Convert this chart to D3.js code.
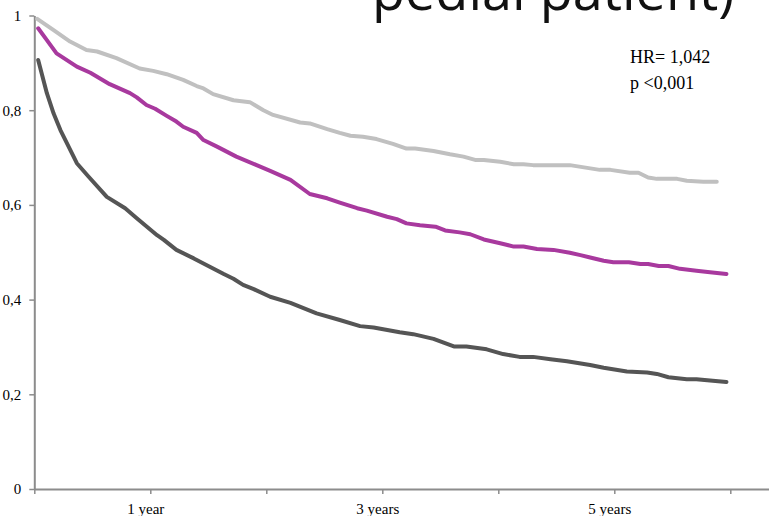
<!DOCTYPE html>
<html>
<head>
<meta charset="utf-8">
<script src="https://cdn.jsdelivr.net/npm/d3@7"></script>
<style>
  html, body { margin: 0; padding: 0; background: #fff; overflow: hidden; }
  svg { display: block; }
</style>
</head>
<body>
<svg id="chart" width="769" height="516"></svg>
<script>
// ---- data (months since start, survival proportion) ----
const greyMonths = [0.3,2,3.7,5.4,6.5,8.5,10.9,12.3,13.7,15.4,16.8,17.5,18.5,20.6,22.3,23.7,24.7,27.5,28.5,30.3,31.6,32.7,34,35.4,37.1,38.5,39.4,41.3,43,44.4,45.6,46.5,48.2,49.6,50.6,51.6,55.4,58.5,59.6,61.6,62.5,63.5,64.4,66.5,67.5,69.2,70.6];
const greyValues = [0.993,0.969,0.945,0.927,0.924,0.910,0.888,0.883,0.876,0.864,0.851,0.846,0.834,0.821,0.817,0.800,0.790,0.774,0.772,0.760,0.752,0.746,0.744,0.739,0.729,0.719,0.719,0.714,0.707,0.702,0.695,0.695,0.691,0.686,0.686,0.684,0.684,0.674,0.674,0.668,0.668,0.658,0.655,0.655,0.651,0.649,0.649];

const magentaMonths = [0.4,1.3,2.3,4.4,5.8,7.8,9.9,10.6,11.6,12.5,13.7,14.7,15.4,16.8,17.5,18.9,20.9,23,24.4,26.5,28.5,30.3,31.6,33.4,34.4,36.5,37.5,38.5,39.9,41.5,42.5,44,45.1,46.5,48.2,49.6,50.6,52,53.7,55.4,56.5,57.5,58.9,59.9,61.5,62.7,63.5,64.6,65.6,66.8,68.5,69.9,71.6];
const magentaValues = [0.973,0.948,0.920,0.892,0.879,0.855,0.836,0.827,0.811,0.803,0.788,0.776,0.765,0.752,0.737,0.723,0.702,0.684,0.672,0.653,0.623,0.614,0.605,0.593,0.588,0.575,0.570,0.561,0.557,0.554,0.546,0.542,0.538,0.527,0.519,0.512,0.512,0.507,0.505,0.499,0.494,0.489,0.482,0.479,0.479,0.475,0.475,0.471,0.471,0.465,0.461,0.458,0.454];

const darkMonths = [0.4,1.3,2,2.7,4.4,5.6,7.5,9.4,10.6,12.7,13.4,14.7,16.5,18.2,19.6,20.6,21.6,22.7,24.4,26.5,29.2,31.6,33.7,35.1,37.8,39.2,41.3,43.4,44.7,46.8,48.5,50.2,51.6,53.4,55.1,57.5,58.9,61.3,63.4,64.4,65.6,67.5,68.5,69.9,71.6];
const darkValues = [0.906,0.836,0.793,0.758,0.688,0.660,0.617,0.593,0.572,0.536,0.526,0.505,0.487,0.469,0.454,0.444,0.431,0.422,0.406,0.393,0.371,0.357,0.344,0.341,0.331,0.327,0.317,0.301,0.301,0.295,0.285,0.279,0.279,0.274,0.270,0.262,0.256,0.248,0.246,0.243,0.236,0.232,0.232,0.229,0.226];

const yTicks = [0, 0.2, 0.4, 0.6, 0.8, 1];
const xTicks = [0, 12, 24, 36, 48, 60, 72, 84];
const xTickLabels = ["", "1 year", "", "3 years", "", "5 years", "", ""];
const titleText = "pedial patient)";
const annotations = ["HR= 1,042", "p <0,001"];

// ---- layout ----
const svg = d3.select("#chart");
const x = d3.scaleLinear().domain([0, 84]).range([34.3, 846.3]);
const y = d3.scaleLinear().domain([0, 1]).range([489, 15.5]);
const axisColor = "#8c8c8c";
const serif = "'Liberation Serif', 'Times New Roman', serif";

// Title (cut off at the top, as in the reference)
svg.append("text")
  .attr("x", 372).attr("y", 10)
  .attr("font-family", "'Open Sans', 'Noto Sans', sans-serif")
  .attr("font-size", 54)
  .attr("fill", "#111")
  .text(titleText);

// Y axis
const yAxis = d3.axisLeft(y)
  .tickValues(yTicks)
  .tickSize(5)
  .tickSizeOuter(0)
  .tickPadding(8)
  .tickFormat(d => d3.format("~g")(d).replace(".", ","));
const gy = svg.append("g").attr("transform", `translate(${x(0)},0)`).call(yAxis);
gy.select(".domain").attr("stroke", axisColor).attr("stroke-width", 2);
gy.selectAll(".tick line").attr("stroke", axisColor).attr("stroke-width", 1.5);
gy.selectAll(".tick text")
  .attr("font-family", serif).attr("font-size", 15).attr("fill", "#000");

// X axis
const xAxis = d3.axisBottom(x)
  .tickValues(xTicks)
  .tickSize(5)
  .tickSizeOuter(0)
  .tickPadding(9)
  .tickFormat((d, i) => xTickLabels[i]);
const gx = svg.append("g").attr("transform", `translate(0,${y(0)})`).call(xAxis);
gx.select(".domain").attr("stroke", axisColor).attr("stroke-width", 2);
gx.selectAll(".tick line").attr("stroke", axisColor).attr("stroke-width", 1.5);
gx.selectAll(".tick text")
  .attr("font-family", serif).attr("font-size", 15).attr("fill", "#000")
  .attr("x", -5);

// Lines
const series = [
  { months: greyMonths, values: greyValues, color: "#c0c0c0" },
  { months: magentaMonths, values: magentaValues, color: "#a8399e" },
  { months: darkMonths, values: darkValues, color: "#555555" }
];
const line = d3.line().x(d => x(d[0])).y(d => y(d[1]));
series.forEach(s => {
  svg.append("path")
    .datum(s.months.map((m, i) => [m, s.values[i]]))
    .attr("d", line)
    .attr("fill", "none")
    .attr("stroke", s.color)
    .attr("stroke-width", 4)
    .attr("stroke-linejoin", "round")
    .attr("stroke-linecap", "round");
});

// Annotations
svg.selectAll("text.annot")
  .data(annotations)
  .enter().append("text")
  .attr("class", "annot")
  .attr("x", 630)
  .attr("y", (d, i) => 63 + i * 26)
  .attr("font-family", serif)
  .attr("font-size", 18)
  .attr("fill", "#000")
  .text(d => d);
</script>
</body>
</html>
